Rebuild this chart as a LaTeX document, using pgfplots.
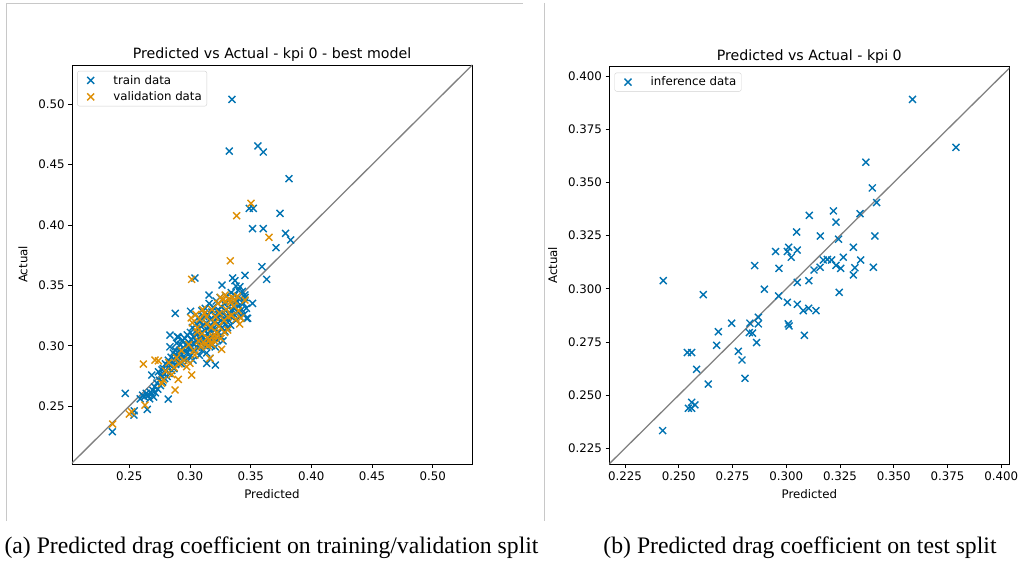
\documentclass[border=0pt]{standalone}
\usepackage{fontspec}
\setmainfont{DejaVu Sans}
\newfontfamily\capfont{Liberation Serif}
\usepackage{pgfplots}
\pgfplotsset{compat=1.18}
\definecolor{cbblue}{HTML}{0173B2}
\definecolor{cborange}{HTML}{DE8F05}
\definecolor{frame}{HTML}{C8C8C8}
\pgfplotsset{
  myax/.style={
    scale only axis,
    axis line style={line width=0.8pt},
    tick align=outside, tick pos=left,
    major tick length=3.8pt,
    every tick/.style={line width=0.8pt, black},
    ticklabel style={font=\fontsize{11.8}{13}\selectfont},
    label style={font=\fontsize{11.8}{13}\selectfont},
    every axis title/.style={at={(0.5,1)}, anchor=south, font=\fontsize{14.2}{16}\selectfont},
    xlabel style={yshift=-2pt},
    ylabel style={yshift=4pt},
    /pgf/number format/assume math mode=true,
    /pgf/number format/fixed,
    /pgf/number format/fixed zerofill,
    xlabel={Predicted}, ylabel={Actual},
    legend cell align=left,
    legend image code/.code={\draw[#1] plot coordinates {(11pt,0pt)};
      \node[draw=none, fill=none, inner sep=0pt, minimum width=31pt, minimum height=8pt, anchor=west] at (0pt,0pt) {};},
    legend style={at={(0.013,0.985)}, anchor=north west, draw=black!18,
      rounded corners=2pt, font=\fontsize{11.8}{13}\selectfont,
      row sep=2pt},
  },
  bluex/.style={only marks, mark=x, mark size=4.9pt, line width=1.4pt, color=cbblue},
  orangex/.style={only marks, mark=x, mark size=4.9pt, line width=1.4pt, color=cborange},
}
\begin{document}
\begin{tikzpicture}
\useasboundingbox (0pt,0pt) rectangle (1018pt,-564pt);
\draw[frame, line width=0.8pt] (6.5pt,-521pt) -- (6.5pt,-3pt) -- (523pt,-3pt);
\draw[frame, line width=0.8pt] (544pt,-3pt) -- (544pt,-521pt);

\begin{axis}[myax,
  at={(72pt,-464pt)}, anchor=south west,
  width=400pt, height=399pt,
  xmin=0.2028, xmax=0.5324, ymin=0.2020, ymax=0.5326,
  xtick={0.25,0.30,0.35,0.40,0.45,0.50},
  ytick={0.25,0.30,0.35,0.40,0.45,0.50},
  /pgf/number format/precision=2,
  title={Predicted vs Actual - kpi 0 - best model},
]
\addplot[bluex] table {
0.3346 0.5041
0.3324 0.4613
0.3560 0.4655
0.3604 0.4605
0.3816 0.4384
0.3489 0.4138
0.3522 0.4138
0.3742 0.4097
0.3516 0.3970
0.3604 0.3970
0.3788 0.3931
0.3830 0.3876
0.3709 0.3812
0.3593 0.3655
0.3632 0.3550
0.3041 0.3561
0.3352 0.3561
0.3371 0.3539
0.3453 0.3583
0.3264 0.3503
0.3412 0.3489
0.3379 0.3494
0.2879 0.3268
0.3157 0.3420
0.3516 0.3351
0.3475 0.3227
0.3453 0.3420
0.3467 0.3227
0.2467 0.2605
0.2360 0.2287
0.2538 0.2425
0.2541 0.2461
0.2648 0.2473
0.2821 0.2558
0.3209 0.2840
0.3138 0.2854
0.2590 0.2560
0.2610 0.2590
0.2625 0.2575
0.2640 0.2605
0.2655 0.2585
0.2668 0.2560
0.2672 0.2615
0.2685 0.2600
0.2695 0.2630
0.2700 0.2575
0.2708 0.2660
0.2715 0.2610
0.2728 0.2690
0.2735 0.2640
0.2685 0.2757
0.2740 0.2784
0.2748 0.2715
0.2756 0.2670
0.2762 0.2745
0.2770 0.2800
0.2775 0.2700
0.2780 0.2812
0.2786 0.2760
0.2792 0.2728
0.2798 0.2850
0.2805 0.2790
0.2808 0.2840
0.2812 0.2745
0.2818 0.2815
0.2822 0.2880
0.2828 0.2770
0.2835 0.2991
0.2838 0.2835
0.2835 0.3088
0.2896 0.3075
0.2845 0.2905
0.2850 0.2795
0.2856 0.2860
0.2862 0.2940
0.2868 0.2810
0.2872 0.2885
0.2878 0.2965
0.2882 0.2845
0.2890 0.3020
0.2893 0.2920
0.2898 0.2870
0.2905 0.3070
0.2910 0.2955
0.2915 0.2895
0.2918 0.2964
0.2922 0.3010
0.2928 0.2850
0.2935 0.2930
0.2940 0.3045
0.2945 0.2985
0.2952 0.2895
0.2958 0.3060
0.2962 0.2960
0.2968 0.3005
0.2973 0.2937
0.2978 0.3090
0.2983 0.2875
0.2988 0.3030
0.2993 0.2970
0.3000 0.2978
0.3004 0.3110
0.3008 0.2920
0.3012 0.3050
0.3016 0.2990
0.3020 0.3150
0.3025 0.2880
0.3028 0.3075
0.3033 0.3015
0.3005 0.3285
0.3042 0.2955
0.3046 0.3120
0.3050 0.3040
0.3055 0.3180
0.3058 0.2985
0.3062 0.3095
0.3066 0.3230
0.3070 0.3010
0.3074 0.3140
0.3078 0.2920
0.3082 0.3060
0.3086 0.3200
0.3090 0.3025
0.3094 0.3110
0.3098 0.3290
0.3102 0.2960
0.3106 0.3170
0.3110 0.3065
0.3114 0.3240
0.3118 0.3000
0.3122 0.3130
0.3126 0.3310
0.3130 0.3050
0.3134 0.3190
0.3138 0.2940
0.3142 0.3100
0.3146 0.3260
0.3150 0.3020
0.3154 0.3150
0.3158 0.3350
0.3162 0.3070
0.3165 0.2895
0.3168 0.3220
0.3172 0.3120
0.3176 0.3000
0.3180 0.3280
0.3184 0.3160
0.3188 0.3060
0.3192 0.3320
0.3196 0.3200
0.3200 0.3095
0.3204 0.3250
0.3208 0.2990
0.3212 0.3140
0.3216 0.3370
0.3220 0.3230
0.3224 0.3050
0.3228 0.3180
0.3232 0.3300
0.3236 0.3110
0.3240 0.3260
0.3244 0.3170
0.3248 0.3400
0.3252 0.3080
0.3256 0.3210
0.3260 0.3320
0.3264 0.3150
0.3268 0.3270
0.3272 0.3040
0.3276 0.3190
0.3280 0.3350
0.3284 0.3230
0.3288 0.3120
0.3292 0.3290
0.3296 0.3180
0.3300 0.3410
0.3305 0.3250
0.3310 0.3150
0.3315 0.3320
0.3320 0.3210
0.3325 0.3380
0.3330 0.3270
0.3335 0.3170
0.3340 0.3440
0.3345 0.3300
0.3350 0.3230
0.3356 0.3360
0.3362 0.3260
0.3368 0.3420
0.3374 0.3310
0.3380 0.3210
0.3386 0.3370
0.3392 0.3280
0.3398 0.3460
0.3404 0.3330
0.3410 0.3240
0.3418 0.3390
0.3425 0.3300
0.3432 0.3450
0.3440 0.3350
0.3448 0.3260
0.3455 0.3400
0.3465 0.3310
};
\addlegendentry{train data}
\addplot[orangex] table {
0.3503 0.4180
0.3385 0.4077
0.3651 0.3898
0.3332 0.3704
0.3014 0.3550
0.3453 0.3378
0.2363 0.2351
0.2500 0.2434
0.2520 0.2453
0.2629 0.2508
0.2616 0.2848
0.2712 0.2881
0.2740 0.2875
0.2877 0.2633
0.2904 0.2721
0.3014 0.2757
0.2767 0.2688
0.2780 0.2716
0.2800 0.2790
0.2825 0.2860
0.2850 0.2760
0.2870 0.2820
0.2890 0.2900
0.2910 0.2850
0.2930 0.2960
0.2950 0.2880
0.2973 0.2826
0.2990 0.3010
0.3000 0.2854
0.3010 0.3230
0.3020 0.3190
0.3030 0.2960
0.3041 0.2923
0.3050 0.3260
0.3060 0.3150
0.3070 0.3040
0.3080 0.3220
0.3090 0.2990
0.3100 0.3100
0.3110 0.3030
0.3120 0.3270
0.3130 0.3010
0.3140 0.3180
0.3150 0.3000
0.3160 0.3050
0.3165 0.2895
0.3170 0.3020
0.3180 0.3300
0.3190 0.3080
0.3200 0.3040
0.3210 0.3240
0.3220 0.3110
0.3230 0.3350
0.3240 0.3160
0.3250 0.3400
0.3255 0.3060
0.3261 0.2970
0.3270 0.3380
0.3280 0.3210
0.3290 0.3420
0.3300 0.3300
0.3310 0.3130
0.3320 0.3390
0.3330 0.3360
0.3340 0.3250
0.3350 0.3400
0.3360 0.3330
0.3370 0.3370
0.3380 0.3220
0.3390 0.3410
0.3400 0.3290
0.3410 0.3180
0.3420 0.3230
0.3105 0.3300
0.3135 0.3240
0.3175 0.3150
0.3205 0.3190
0.3245 0.3270
0.3285 0.3110
0.3315 0.3240
0.3295 0.3370
0.3060 0.3115
0.3145 0.3065
0.3185 0.3010
0.3215 0.3080
};
\addlegendentry{validation data}
\addplot[color=gray, line width=1.3pt, forget plot] coordinates {(0.19,0.19) (0.55,0.55)};
\end{axis}

\begin{axis}[myax,
  at={(609.3pt,-464pt)}, anchor=south west,
  width=400pt, height=397.3pt,
  xmin=0.2177, xmax=0.4037, ymin=0.2176, ymax=0.4044,
  xtick={0.225,0.250,0.275,0.300,0.325,0.350,0.375,0.400},
  ytick={0.225,0.250,0.275,0.300,0.325,0.350,0.375,0.400},
  /pgf/number format/precision=3,
  title={Predicted vs Actual - kpi 0},
]
\addplot[bluex] table {
0.3587 0.3890
0.3789 0.3665
0.3370 0.3595
0.3400 0.3474
0.3420 0.3405
0.3343 0.3353
0.3107 0.3345
0.3219 0.3366
0.3231 0.3313
0.3048 0.3267
0.3158 0.3248
0.3243 0.3233
0.3412 0.3248
0.3312 0.3195
0.2950 0.3175
0.3011 0.3195
0.3005 0.3175
0.3023 0.3148
0.3051 0.3182
0.2853 0.3109
0.2966 0.3096
0.3129 0.3088
0.3157 0.3101
0.3172 0.3135
0.3191 0.3138
0.3211 0.3135
0.3231 0.3110
0.3253 0.3096
0.3265 0.3148
0.3312 0.3065
0.3319 0.3099
0.3346 0.3135
0.3405 0.3101
0.3105 0.3038
0.3051 0.3030
0.2428 0.3038
0.2614 0.2972
0.2898 0.2998
0.2964 0.2966
0.3246 0.2983
0.3005 0.2936
0.3051 0.2927
0.3079 0.2897
0.3104 0.2908
0.3138 0.2897
0.3009 0.2835
0.3013 0.2825
0.2746 0.2838
0.2831 0.2838
0.2843 0.2791
0.2828 0.2794
0.2870 0.2866
0.2870 0.2835
0.2684 0.2798
0.3084 0.2781
0.2862 0.2747
0.2676 0.2734
0.2540 0.2700
0.2560 0.2700
0.2777 0.2706
0.2794 0.2665
0.2583 0.2621
0.2637 0.2552
0.2808 0.2579
0.2560 0.2466
0.2545 0.2438
0.2575 0.2454
0.2560 0.2438
0.2425 0.2333
};
\addlegendentry{inference data}
\addplot[color=gray, line width=1.3pt, forget plot] coordinates {(0.2,0.2) (0.42,0.42)};
\end{axis}

\node[font=\capfont\fontsize{23.7}{26}\selectfont] at (271.5pt,-548pt) {(a) Predicted drag coefficient on training/validation split};
\node[font=\capfont\fontsize{23.7}{26}\selectfont] at (800pt,-548pt) {(b) Predicted drag coefficient on test split};
\end{tikzpicture}
\end{document}
